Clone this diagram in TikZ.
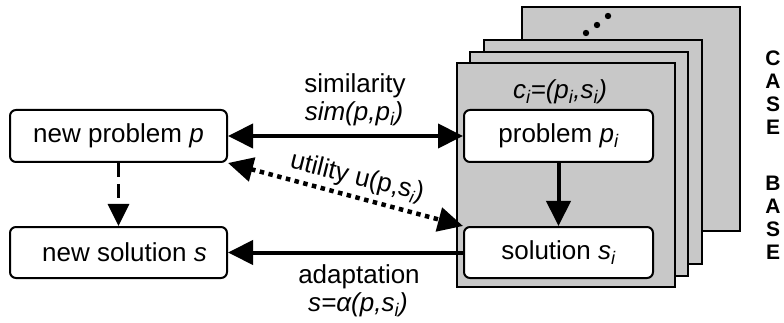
\documentclass[tikz,border=0pt]{standalone}
\usepackage{fontspec}
\setmainfont{Liberation Sans}
\usetikzlibrary{arrows.meta}
\newcommand{\ix}[1]{\textsubscript{\itshape #1}}
\definecolor{sheetgray}{RGB}{200,200,200}
\tikzset{
  box/.style={draw, line width=2pt, rounded corners=6pt, fill=white,
    font=\fontsize{26}{29}\selectfont, inner sep=0pt},
  sheet/.style={draw, line width=2.2pt, fill=sheetgray},
  big/.style={-{Triangle[length=25pt,width=24pt]}},
  bigboth/.style={{Triangle[length=25pt,width=24pt]}-{Triangle[length=25pt,width=24pt]}},
  lbl/.style={font=\fontsize{26}{29}\selectfont, inner sep=0pt},
  letter/.style={font=\fontsize{21}{23}\selectfont\bfseries, inner sep=0pt},
  dot/.style={fill=black, draw=none}
}
\begin{document}
\begin{tikzpicture}[x=1pt,y=-1pt]
\useasboundingbox (0,0) rectangle (784,323);

% stack of case sheets, back to front
\draw[sheet] (522,7) rectangle (740,231);
\draw[sheet] (484,40) rectangle (702,264);
\draw[sheet] (470,52) rectangle (688,276);
\draw[sheet] (457,63) rectangle (675,287);

% dots on the back sheet
\fill[dot] (586,33) circle (3.2pt);
\fill[dot] (597,25) circle (3.2pt);
\fill[dot] (608,16) circle (3.2pt);

% case label
\node[lbl] (ci) at (560,92) {\itshape c\ix{i}=(p\ix{i},s\ix{i})};

% nodes
\node[box, minimum width=217pt, minimum height=52pt] (np) at (118.5,136) {new problem \textit{p}};
\node[box, minimum width=217pt, minimum height=51pt] (ns) at (118.5,252.5) {\hspace{12pt}new solution \textit{s}};
\node[box, minimum width=189pt, minimum height=52pt] (pi) at (558.5,136) {problem \textit{p}\ix{i}};
\node[box, minimum width=189pt, minimum height=51pt] (si) at (558.5,252.5) {solution \textit{s}\ix{i}};

% connectors
\draw[bigboth, line width=4pt] (np.east) -- (pi.west);
\draw[-{Triangle[length=22pt,width=21pt]}, line width=3.5pt, dash pattern=on 14pt off 7pt] (np.south) -- (ns.north);
\draw[big, line width=4pt] (pi.south) -- (si.north);
\draw[big, line width=4pt] (si.west) -- (ns.east);
\draw[bigboth, line width=4.5pt, dash pattern=on 4.5pt off 4.5pt] (np.south east) -- (si.north west);

% edge labels
\node[lbl] (simtxt) at (355,86) {similarity};
\node[lbl] (simfn) at (354,114) {\itshape sim(p,p\ix{i})};
\node[lbl, rotate=-14] (util) at (357,178) {utility u(p,s\raisebox{-0.3ex}{\fontsize{17}{17}\selectfont\itshape i})};
\node[lbl] (adtxt) at (359,277) {adaptation};
\node[lbl] (adfn) at (358,305) {\itshape s=α(p,s\ix{i})};

% vertical caption
\foreach \ch/\yy [count=\k] in {C/58,A/81,S/104,E/127,B/183,A/206,S/229,E/252}
  \node[letter] (cb\k) at (773,\yy) {\ch};
\end{tikzpicture}
\end{document}
